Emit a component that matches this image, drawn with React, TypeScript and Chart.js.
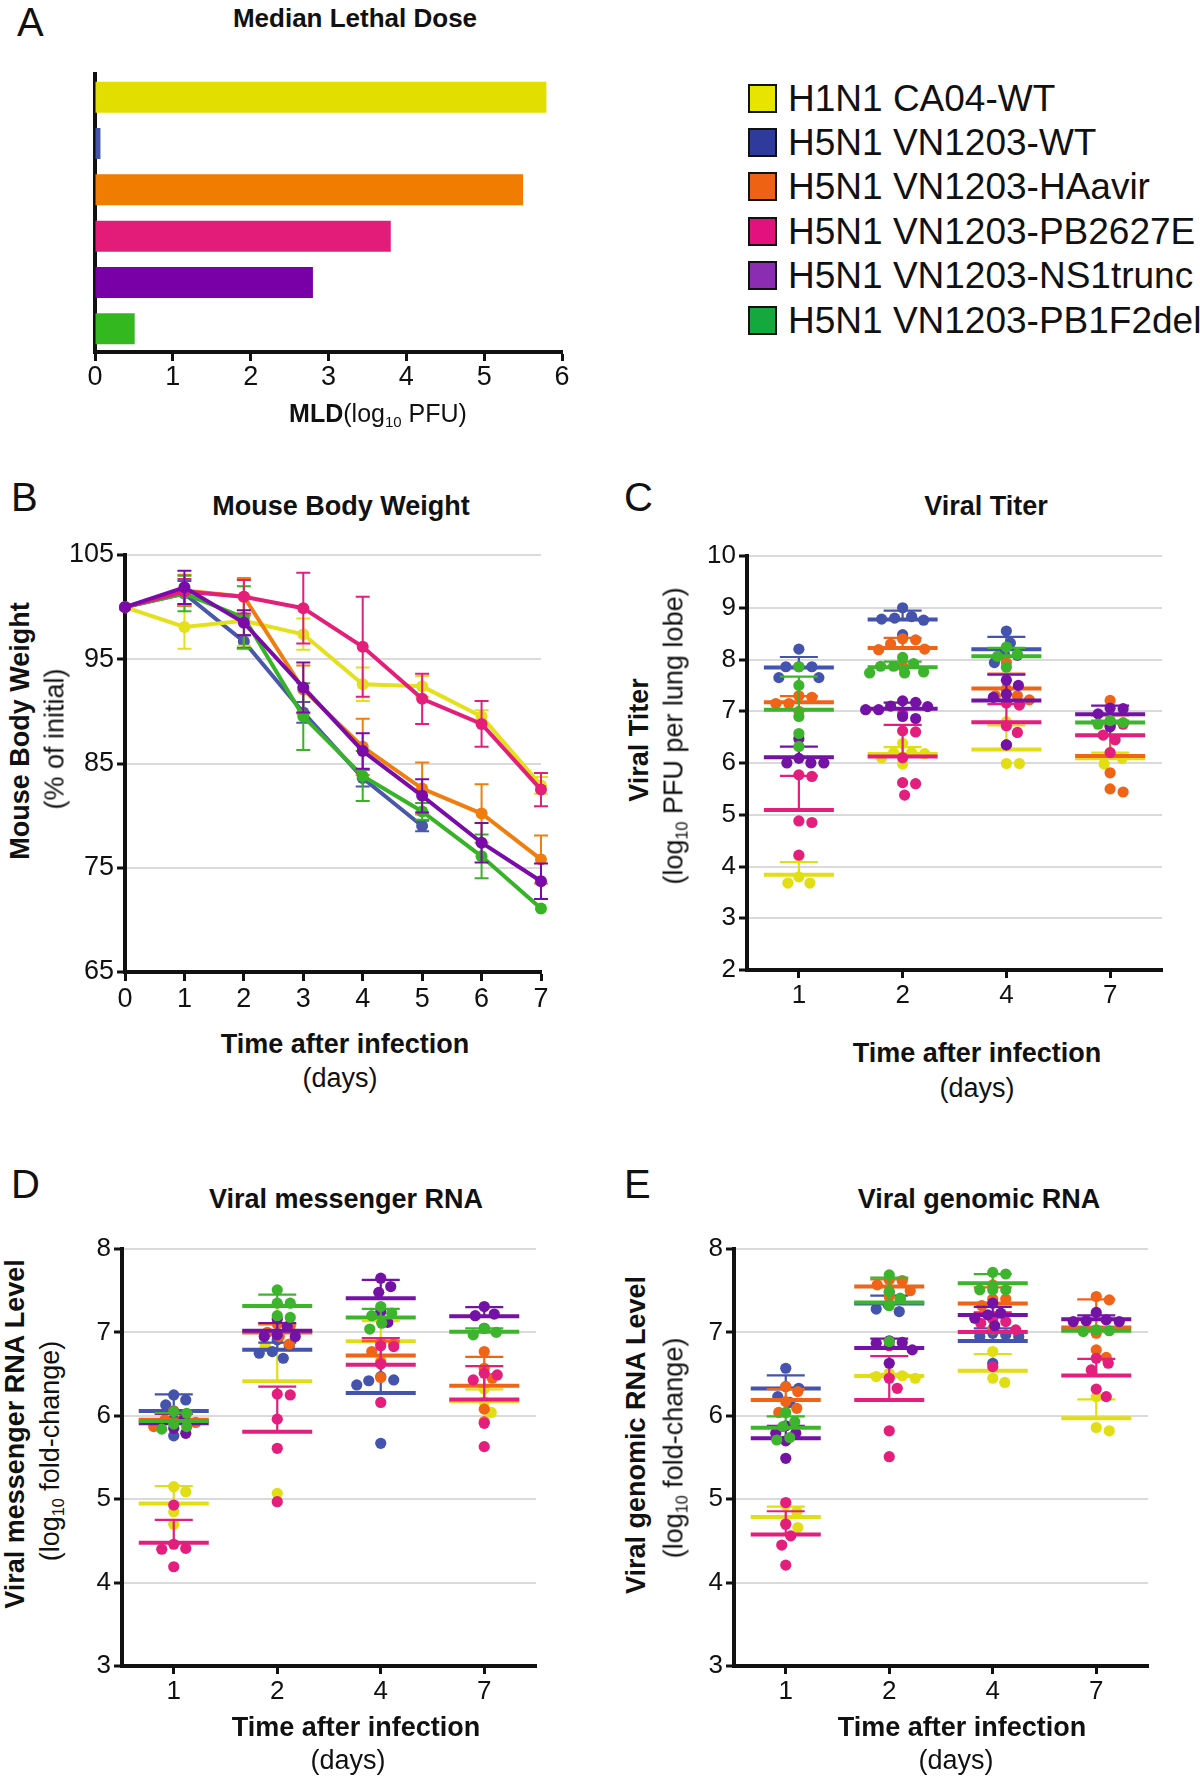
import React, { useEffect, useRef } from 'react';
import { Chart, registerables } from 'chart.js';

Chart.register(...registerables);

const FONT = '"Liberation Sans", Arimo, Arial, Helvetica, sans-serif';
const INK = '#111111';
const GRID = '#dadada';

// ---------------- groups ----------------
const groupNames = [
  'H1N1 CA04-WT',
  'H5N1 VN1203-WT',
  'H5N1 VN1203-HAavir',
  'H5N1 VN1203-PB2627E',
  'H5N1 VN1203-NS1trunc',
  'H5N1 VN1203-PB1F2del',
];
const legendColors = ['#E6E400', '#2E3A9C', '#EE6214', '#E2117E', '#8B2DB3', '#14A83E'];
const barColors = ['#E2DF00', '#4455AE', '#F07D00', '#E31C7A', '#7800A6', '#34B820'];
const lineColors = ['#E4E01C', '#4A58AC', '#F07E0E', '#E31F7A', '#7A0BA8', '#36B426'];
const dotColors = ['#E2DE14', '#4453AD', '#EF6417', '#E31E7C', '#7412A6', '#3CB52D'];

// ---------------- A: median lethal dose ----------------
const mldValues = [5.8, 0.07, 5.5, 3.8, 2.8, 0.51];
const mldTicks = [0, 1, 2, 3, 4, 5, 6];

// ---------------- B: body weight ----------------
const weightDays = [0, 1, 2, 3, 4, 5, 6, 7];
const weightTicks = [65, 75, 85, 95, 105];
const weightCA04WT = [100, 98.1, 98.7, 97.4, 92.6, 92.4, 89.5, 82.9];
const weightCA04WTSd = [0, 2.1, 2.4, 1.5, 1.6, 1.0, 0.6, 0.8];
const weightVNWT = [100, 101.3, 96.7, 89.9, 83.6, 79.0, null, null];
const weightVNWTSd = [0, 1.2, 0.6, 1.0, 0.8, 0.5, 0, 0];
const weightHAavir = [100, 101.6, 101.0, 92.1, 86.6, 82.6, 80.2, 75.8];
const weightHAavirSd = [0, 1.5, 1.8, 2.3, 2.7, 2.5, 2.8, 2.3];
const weightPB2627E = [100, 101.5, 101.0, 99.9, 96.2, 91.2, 88.8, 82.5];
const weightPB2627ESd = [0, 1.2, 1.6, 3.4, 4.8, 2.4, 2.2, 1.6];
const weightNS1trunc = [100, 101.9, 98.5, 92.3, 86.2, 81.9, 77.4, 73.7];
const weightNS1truncSd = [0, 1.6, 1.2, 2.4, 1.7, 1.6, 1.9, 1.7];
const weightPB1F2del = [100, 101.3, 99.0, 89.5, 83.8, 80.4, 76.1, 71.1];
const weightPB1F2delSd = [0, 1.7, 3.0, 3.2, 2.4, 0.8, 2.1, 0];

// ---------------- C/D/E: per-animal values, per day ----------------
const sampleDayLabels = ['1', '2', '4', '7'];

const titerCA04WT = [[4.2, 3.8, 3.68, 3.68], [6.38, 6.2, 6.2, 6.18, 6.1, 5.98], [6.8, 5.99, 5.99], [6.2, 6.09, 5.98]];
const titerVNWT = [[8.2, 7.86, 7.86, 7.86, 7.65, 7.65], [9.0, 8.83, 8.8, 8.78, 8.76, 8.48], [8.55, 8.32, 8.1, 8.08, 7.94], []];
const titerHAavir = [[7.3, 7.27, 7.15, 7.15, 7.0], [8.4, 8.38, 8.3, 8.2, 8.19, 7.87], [7.94, 7.43, 7.3, 7.3, 7.22], [7.21, 6.71, 5.81, 5.5, 5.44]];
const titerPB2627E = [[5.77, 5.74, 4.88, 4.85, 4.22], [6.95, 6.62, 6.6, 6.1, 5.62, 5.6, 5.38], [7.16, 7.12, 6.72, 6.59, 6.35], [6.75, 6.75, 6.54, 6.45, 6.2]];
const titerNS1trunc = [[6.47, 6.09, 6.0, 6.0, 6.0], [7.2, 7.17, 7.1, 7.09, 7.03, 7.03, 6.9, 6.86], [7.6, 7.5, 7.33, 7.27, 6.35], [7.06, 7.05, 6.95, 6.7]];
const titerPB1F2del = [[7.86, 7.5, 6.9, 6.57, 6.32], [8.04, 7.92, 7.87, 7.87, 7.76, 7.74, 7.74], [8.24, 8.1, 8.06, 7.85], [6.82, 6.78, 6.75]];

const mrnaCA04WT = [[5.15, 5.09, 4.85, 4.7], [6.91, 6.84, 6.84, 5.07], [7.15, 6.86, 6.67], [6.32, 6.17, 6.04]];
const mrnaVNWT = [[6.25, 6.19, 6.13, 5.96, 5.76], [6.91, 6.84, 6.77, 6.75, 6.69], [6.47, 6.43, 6.42, 6.37, 5.67], []];
const mrnaHAavir = [[6.06, 5.97, 5.95, 5.92, 5.87], [7.1, 7.08, 7.0, 6.95, 6.86], [6.88, 6.86, 6.77, 6.64, 6.46], [6.77, 6.57, 6.45, 6.08, 5.93]];
const mrnaPB2627E = [[4.93, 4.46, 4.41, 4.4, 4.19], [6.26, 6.25, 5.96, 5.61, 4.97], [6.84, 6.83, 6.62, 6.16], [6.51, 6.49, 6.43, 5.91, 5.63]];
const mrnaNS1trunc = [[6.05, 5.95, 5.85, 5.79], [7.16, 7.07, 6.97, 6.95, 6.95], [7.65, 7.55, 7.48, 7.25, 7.12], [7.31, 7.22, 7.2, 7.05]];
const mrnaPB1F2del = [[6.05, 6.03, 5.9, 5.87, 5.84], [7.51, 7.35, 7.35, 7.2, 7.18], [7.31, 7.23, 7.2, 7.11, 7.04], [7.05, 7.0, 6.97]];

const grnaCA04WT = [[4.93, 4.85, 4.71, 4.66], [6.51, 6.48, 6.47, 6.45], [6.77, 6.45, 6.4], [6.23, 5.86, 5.82]];
const grnaVNWT = [[6.57, 6.35, 6.33, 6.23, 6.16], [7.48, 7.4, 7.33, 7.28, 7.25], [6.99, 6.97, 6.95, 6.95, 6.63], []];
const grnaHAavir = [[6.35, 6.29, 6.17, 6.09, 6.04], [7.63, 7.62, 7.57, 7.5, 7.43], [7.57, 7.4, 7.4, 7.32, 7.04], [7.43, 7.39, 6.99, 6.79, 6.7]];
const grnaPB2627E = [[4.96, 4.7, 4.56, 4.45, 4.21], [6.84, 6.45, 6.33, 5.82, 5.51], [7.16, 7.13, 7.11, 7.03, 6.59], [6.69, 6.63, 6.55, 6.32, 6.23]];
const grnaNS1trunc = [[5.88, 5.79, 5.79, 5.7, 5.49], [6.9, 6.88, 6.87, 6.79, 6.63], [7.35, 7.23, 7.21, 7.17, 7.08], [7.24, 7.15, 7.14, 7.13, 7.13]];
const grnaPB1F2del = [[6.04, 5.93, 5.87, 5.74, 5.71], [7.69, 7.49, 7.41, 7.32, 6.89], [7.72, 7.7, 7.51, 7.51, 7.51], [7.03, 7.01, 7.02]];

// ---------------- layout (pixels) ----------------
type Geom = { left: number; right: number; top: number; bottom: number; yAxisW: number; xAxisH: number; padTop: number; padRight: number; padBottom: number };
const geomA: Geom = { left: 95, right: 562, top: 74, bottom: 352, yAxisW: 50, xAxisH: 45, padTop: 14, padRight: 24, padBottom: 4 };
const geomB: Geom = { left: 125, right: 541, top: 555, bottom: 972, yAxisW: 70, xAxisH: 45, padTop: 20, padRight: 20, padBottom: 4 };
const geomC: Geom = { left: 747, right: 1162, top: 556, bottom: 970, yAxisW: 60, xAxisH: 45, padTop: 20, padRight: 20, padBottom: 4 };
const geomD: Geom = { left: 122, right: 536, top: 1249, bottom: 1666, yAxisW: 55, xAxisH: 45, padTop: 20, padRight: 20, padBottom: 4 };
const geomE: Geom = { left: 734, right: 1148, top: 1249, bottom: 1666, yAxisW: 55, xAxisH: 45, padTop: 20, padRight: 20, padBottom: 4 };

const DOT_R = 5.6;
const SWARM_GAP = 12.5;

function canvasBox(g: Geom) {
  const left = g.left - g.yAxisW;
  const top = g.top - g.padTop;
  return { left, top, width: g.right + g.padRight - left, height: g.bottom + g.xAxisH + g.padBottom - top };
}

function meanOf(a: number[]) {
  return a.reduce((s, v) => s + v, 0) / a.length;
}
function sdOf(a: number[]) {
  if (a.length < 2) return 0;
  const m = meanOf(a);
  return Math.sqrt(a.reduce((s, v) => s + (v - m) * (v - m), 0) / (a.length - 1));
}

// beeswarm layout: horizontal pixel offsets so that dots of one group do not overlap
function swarmOffsets(values: number[], pxPerUnit: number, diam: number): number[] {
  const idx = values.map((_, i) => i).sort((a, b) => values[b] - values[a]);
  const placed: { x: number; y: number }[] = [];
  const out = new Array(values.length).fill(0);
  for (const i of idx) {
    const y = values[i] * pxPerUnit;
    let chosen = 0;
    for (let k = 0; k < 400; k++) {
      const x = Math.ceil(k / 2) * (k % 2 === 1 ? 1 : -1);
      if (placed.every((p) => Math.hypot(p.x - x, p.y - y) >= diam)) {
        chosen = x;
        break;
      }
    }
    placed.push({ x: chosen, y });
    out[i] = chosen;
  }
  return out;
}

const errorBarPlugin = {
  id: 'weightErrors',
  beforeDatasetDraw(chart: any, args: any) {
    const ds: any = chart.data.datasets[args.index];
    if (!ds.sd) return;
    const { ctx } = chart;
    const xs = chart.scales.x;
    const ys = chart.scales.y;
    ctx.save();
    ctx.strokeStyle = ds.borderColor;
    ctx.lineWidth = 2;
    ds.data.forEach((p: any, i: number) => {
      const sd = ds.sd[i];
      if (p.y == null || !sd) return;
      const x = xs.getPixelForValue(p.x);
      const y1 = ys.getPixelForValue(p.y - sd);
      const y2 = ys.getPixelForValue(p.y + sd);
      ctx.beginPath();
      ctx.moveTo(x, y1);
      ctx.lineTo(x, y2);
      ctx.moveTo(x - 7, y1);
      ctx.lineTo(x + 7, y1);
      ctx.moveTo(x - 7, y2);
      ctx.lineTo(x + 7, y2);
      ctx.stroke();
    });
    ctx.restore();
  },
};

const meanSdPlugin = {
  id: 'meanSd',
  afterDatasetDraw(chart: any, args: any) {
    const ds: any = chart.data.datasets[args.index];
    if (!ds.meanSd) return;
    const { ctx } = chart;
    const xs = chart.scales.x;
    const ys = chart.scales.y;
    ctx.save();
    ctx.strokeStyle = ds.backgroundColor;
    ctx.lineCap = 'butt';
    ds.meanSd.forEach((s: any, i: number) => {
      if (!s) return;
      const cx = xs.getPixelForValue(i + 1);
      const my = ys.getPixelForValue(s.mean);
      const ty = ys.getPixelForValue(s.mean + s.sd);
      ctx.lineWidth = 2.2;
      ctx.beginPath();
      ctx.moveTo(cx, my);
      ctx.lineTo(cx, ty);
      ctx.moveTo(cx - 19, ty);
      ctx.lineTo(cx + 19, ty);
      ctx.stroke();
      ctx.lineWidth = 4;
      ctx.beginPath();
      ctx.moveTo(cx - 35, my);
      ctx.lineTo(cx + 35, my);
      ctx.stroke();
    });
    ctx.restore();
  },
};

function baseOptions(g: Geom) {
  return {
    animation: false,
    responsive: false,
    maintainAspectRatio: false,
    devicePixelRatio: 1,
    events: [],
    layout: { padding: { left: 0, top: g.padTop, right: g.padRight, bottom: g.padBottom } },
    plugins: { legend: { display: false }, tooltip: { enabled: false }, title: { display: false } },
  };
}

function xAxisBase(g: Geom, fontSize: number, tickLength: number) {
  return {
    type: 'linear',
    ticks: { font: { family: FONT, size: fontSize }, color: INK, autoSkip: false, maxRotation: 0, padding: 2 },
    grid: { display: true, drawOnChartArea: false, drawTicks: true, tickLength, tickColor: INK, tickWidth: 3 },
    border: { display: true, color: INK, width: 4 },
    afterFit: (s: any) => {
      s.height = g.xAxisH;
    },
  };
}

function yAxisBase(g: Geom, fontSize: number, min: number, max: number, step: number) {
  return {
    type: 'linear',
    min,
    max,
    ticks: { stepSize: step, font: { family: FONT, size: fontSize }, color: INK, padding: 3, autoSkip: false },
    grid: { color: GRID, lineWidth: 2, drawTicks: true, tickLength: 8, tickColor: INK, tickWidth: 3 },
    border: { display: true, color: INK, width: 4 },
    afterFit: (s: any) => {
      s.width = g.yAxisW;
    },
  };
}

function makeMldConfig(): any {
  const g = geomA;
  return {
    type: 'bar',
    data: {
      labels: groupNames,
      datasets: [
        { data: mldValues, backgroundColor: barColors, borderWidth: 0, barPercentage: 0.67, categoryPercentage: 1 },
      ],
    },
    options: {
      ...baseOptions(g),
      indexAxis: 'y',
      scales: {
        x: {
          ...xAxisBase(g, 27, 9),
          min: 0,
          max: 6,
          afterBuildTicks: (s: any) => {
            s.ticks = mldTicks.map((v) => ({ value: v }));
          },
          ticks: { font: { family: FONT, size: 27 }, color: INK, autoSkip: false, maxRotation: 0, padding: 0 },
        },
        y: {
          type: 'category',
          ticks: { display: false },
          grid: { display: false },
          border: { display: true, color: INK, width: 4 },
          afterFit: (s: any) => {
            s.width = g.yAxisW;
          },
        },
      },
    },
  };
}

function makeWeightConfig(): any {
  const g = geomB;
  const series = [
    { v: weightCA04WT, sd: weightCA04WTSd, order: 4 },
    { v: weightVNWT, sd: weightVNWTSd, order: 5 },
    { v: weightHAavir, sd: weightHAavirSd, order: 3 },
    { v: weightPB2627E, sd: weightPB2627ESd, order: 1 },
    { v: weightNS1trunc, sd: weightNS1truncSd, order: 0 },
    { v: weightPB1F2del, sd: weightPB1F2delSd, order: 2 },
  ];
  return {
    type: 'line',
    data: {
      datasets: series.map((s, i) => ({
        label: groupNames[i],
        data: weightDays.map((d, k) => ({ x: d, y: s.v[k] })),
        sd: s.sd,
        order: s.order,
        borderColor: lineColors[i],
        backgroundColor: lineColors[i],
        pointBackgroundColor: lineColors[i],
        pointBorderWidth: 0,
        pointRadius: 6,
        borderWidth: 4,
        tension: 0,
        spanGaps: false,
        clip: false,
      })),
    },
    options: {
      ...baseOptions(g),
      scales: {
        x: {
          ...xAxisBase(g, 27, 9),
          min: 0,
          max: 7,
          afterBuildTicks: (s: any) => {
            s.ticks = weightDays.map((v) => ({ value: v }));
          },
        },
        y: {
          ...yAxisBase(g, 27, 65, 105, 10),
          afterBuildTicks: (s: any) => {
            s.ticks = weightTicks.map((v) => ({ value: v }));
          },
        },
      },
    },
    plugins: [errorBarPlugin],
  };
}

function makeScatterConfig(g: Geom, groups: number[][][], yMin: number, yMax: number): any {
  const pxPerUnit = (g.bottom - g.top) / (yMax - yMin);
  const pxPerCat = (g.right - g.left) / sampleDayLabels.length;
  const datasets = groups.map((grp, gi) => {
    const pts: { x: number; y: number }[] = [];
    const stats: any[] = [];
    grp.forEach((vals, di) => {
      const offs = swarmOffsets(vals, pxPerUnit, SWARM_GAP);
      vals.forEach((v, k) => pts.push({ x: di + 1 + offs[k] / pxPerCat, y: v }));
      stats.push(vals.length ? { mean: meanOf(vals), sd: sdOf(vals) } : null);
    });
    return {
      label: groupNames[gi],
      data: pts,
      meanSd: stats,
      order: groups.length - 1 - gi,
      backgroundColor: dotColors[gi],
      borderColor: dotColors[gi],
      pointRadius: DOT_R,
      pointBorderWidth: 0,
      borderWidth: 0,
      clip: false,
    };
  });
  return {
    type: 'scatter',
    data: { datasets },
    options: {
      ...baseOptions(g),
      scales: {
        x: {
          ...xAxisBase(g, 26, 8),
          min: 0.5,
          max: sampleDayLabels.length + 0.5,
          afterBuildTicks: (s: any) => {
            s.ticks = sampleDayLabels.map((_, i) => ({ value: i + 1 }));
          },
          ticks: {
            font: { family: FONT, size: 26 },
            color: INK,
            autoSkip: false,
            maxRotation: 0,
            padding: 2,
            callback: (v: any) => sampleDayLabels[Math.round(v) - 1] ?? '',
          },
        },
        y: yAxisBase(g, 26, yMin, yMax, 1),
      },
    },
    plugins: [meanSdPlugin],
  };
}

function ChartCanvas({ geom, make }: { geom: Geom; make: () => any }) {
  const ref = useRef<HTMLCanvasElement>(null);
  const box = canvasBox(geom);
  useEffect(() => {
    const chart = new Chart(ref.current as HTMLCanvasElement, make());
    return () => chart.destroy();
  }, []);
  return (
    <canvas
      ref={ref}
      width={box.width}
      height={box.height}
      style={{ position: 'absolute', left: box.left, top: box.top, width: box.width, height: box.height }}
    />
  );
}

function Label(props: {
  x: number;
  y: number;
  size: number;
  bold?: boolean;
  rotate?: boolean;
  anchor?: 'start' | 'middle';
  children: React.ReactNode;
}) {
  const { x, y, size, bold, rotate, anchor = 'middle', children } = props;
  const tx = anchor === 'start' ? '0' : '-50%';
  return (
    <div
      style={{
        position: 'absolute',
        left: x,
        top: y,
        transform: `translate(${tx}, -50%)${rotate ? ' rotate(-90deg)' : ''}`,
        fontSize: size,
        fontWeight: bold ? 700 : 400,
        lineHeight: 1,
        whiteSpace: 'nowrap',
        color: INK,
        fontFamily: FONT,
      }}
    >
      {children}
    </div>
  );
}

const Sub = ({ children }: { children: React.ReactNode }) => (
  <span style={{ fontSize: '0.6em', position: 'relative', top: '0.3em' }}>{children}</span>
);

export default function App() {
  return (
    <div
      style={{
        position: 'absolute',
        left: 0,
        top: 0,
        width: 1200,
        height: 1777,
        background: '#ffffff',
        overflow: 'hidden',
        fontFamily: FONT,
      }}
    >
      {/* Panel letters */}
      <Label x={17} y={22} size={40} anchor="start">A</Label>
      <Label x={11} y={497} size={40} anchor="start">B</Label>
      <Label x={624} y={497} size={40} anchor="start">C</Label>
      <Label x={11} y={1184} size={40} anchor="start">D</Label>
      <Label x={624} y={1184} size={40} anchor="start">E</Label>

      {/* A */}
      <Label x={355} y={18} size={26} bold>Median Lethal Dose</Label>
      <ChartCanvas geom={geomA} make={makeMldConfig} />
      <Label x={378} y={413} size={25}>
        <b>MLD</b>(log<Sub>10</Sub> PFU)
      </Label>

      {/* Legend */}
      {groupNames.map((name, i) => (
        <div
          key={name}
          style={{
            position: 'absolute',
            left: 748,
            top: 98 + i * 44.4 - 14.5,
            height: 29,
            display: 'flex',
            alignItems: 'center',
          }}
        >
          <div
            style={{
              width: 29,
              height: 29,
              boxSizing: 'border-box',
              border: '2.5px solid #111',
              background: legendColors[i],
            }}
          />
          <div style={{ marginLeft: 11, fontSize: 37, lineHeight: 1, fontFamily: FONT, color: INK, whiteSpace: 'nowrap' }}>
            {name}
          </div>
        </div>
      ))}

      {/* B */}
      <Label x={341} y={506} size={27} bold>Mouse Body Weight</Label>
      <ChartCanvas geom={geomB} make={makeWeightConfig} />
      <Label x={20} y={731} size={27} bold rotate>Mouse Body Weight</Label>
      <Label x={55} y={739} size={27} rotate>(% of initial)</Label>
      <Label x={345} y={1044} size={27} bold>Time after infection</Label>
      <Label x={340} y={1078} size={27}>(days)</Label>

      {/* C */}
      <Label x={986} y={506} size={27} bold>Viral Titer</Label>
      <ChartCanvas
        geom={geomC}
        make={() =>
          makeScatterConfig(geomC, [titerCA04WT, titerVNWT, titerHAavir, titerPB2627E, titerNS1trunc, titerPB1F2del], 2, 10)
        }
      />
      <Label x={639} y={740} size={27} bold rotate>Viral Titer</Label>
      <Label x={674} y={736} size={27} rotate>
        (log<Sub>10</Sub> PFU per lung lobe)
      </Label>
      <Label x={977} y={1053} size={27} bold>Time after infection</Label>
      <Label x={977} y={1088} size={27}>(days)</Label>

      {/* D */}
      <Label x={346} y={1199} size={27} bold>Viral messenger RNA</Label>
      <ChartCanvas
        geom={geomD}
        make={() =>
          makeScatterConfig(geomD, [mrnaCA04WT, mrnaVNWT, mrnaHAavir, mrnaPB2627E, mrnaNS1trunc, mrnaPB1F2del], 3, 8)
        }
      />
      <Label x={15} y={1434} size={27} bold rotate>Viral messenger RNA Level</Label>
      <Label x={50} y={1451} size={27} rotate>
        (log<Sub>10</Sub> fold-change)
      </Label>
      <Label x={356} y={1727} size={27} bold>Time after infection</Label>
      <Label x={348} y={1760} size={27}>(days)</Label>

      {/* E */}
      <Label x={979} y={1199} size={27} bold>Viral genomic RNA</Label>
      <ChartCanvas
        geom={geomE}
        make={() =>
          makeScatterConfig(geomE, [grnaCA04WT, grnaVNWT, grnaHAavir, grnaPB2627E, grnaNS1trunc, grnaPB1F2del], 3, 8)
        }
      />
      <Label x={636} y={1435} size={27} bold rotate>Viral genomic RNA Level</Label>
      <Label x={674} y={1448} size={27} rotate>
        (log<Sub>10</Sub> fold-change)
      </Label>
      <Label x={962} y={1727} size={27} bold>Time after infection</Label>
      <Label x={956} y={1760} size={27}>(days)</Label>
    </div>
  );
}
